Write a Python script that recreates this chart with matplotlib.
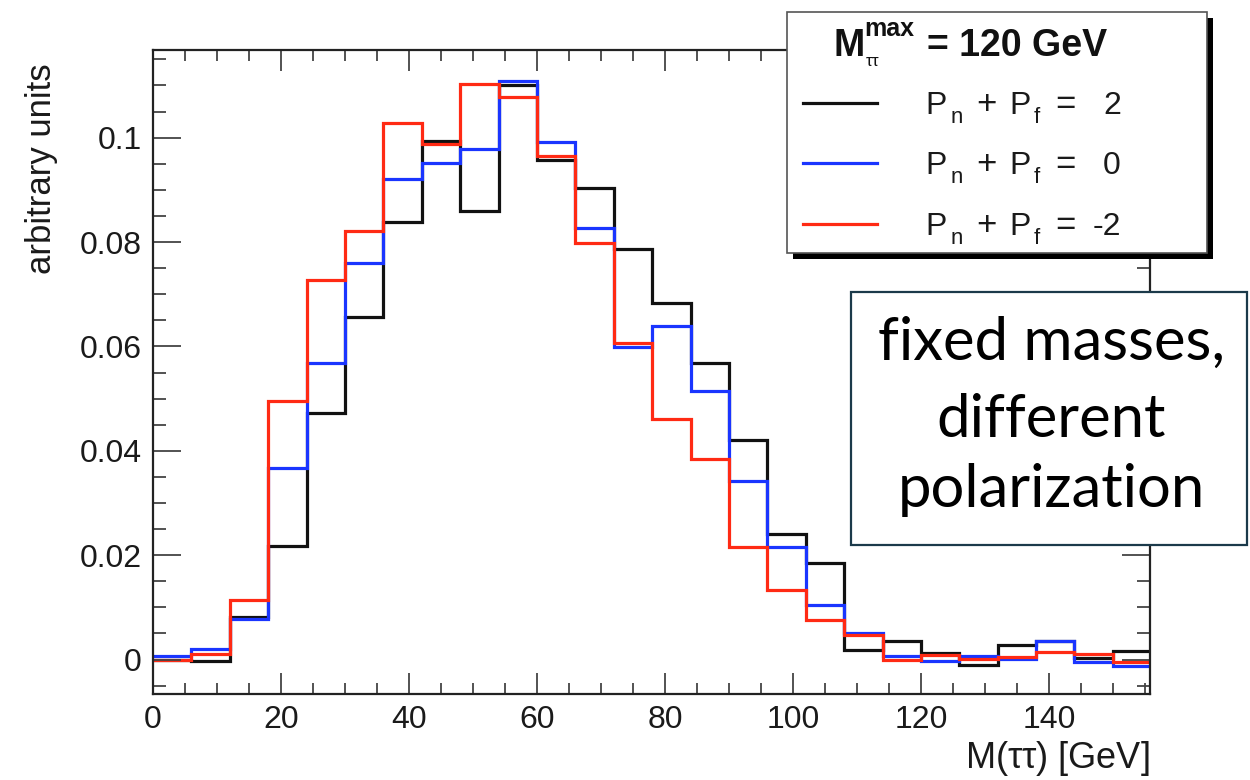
import numpy as np
import matplotlib
matplotlib.use("Agg")
import matplotlib.pyplot as plt
from matplotlib.patches import Rectangle
from matplotlib.lines import Line2D
from matplotlib.ticker import MultipleLocator

plt.rcParams['font.family'] = ['Liberation Sans', 'DejaVu Sans']
plt.rcParams['mathtext.fontset'] = 'custom'
plt.rcParams['mathtext.rm'] = 'Liberation Sans'
plt.rcParams['mathtext.it'] = 'Liberation Sans'
plt.rcParams['mathtext.bf'] = 'Liberation Sans:bold'

# ---- data (bin edges every 6 GeV, 0..156) ----
bin_edges = list(range(0, 157, 6))
black_vals = [0.0000, -0.0002, 0.0082, 0.0217, 0.0472, 0.0657, 0.0839, 0.0994,
              0.0860, 0.1100, 0.0957, 0.0903, 0.0786, 0.0683, 0.0569, 0.0420,
              0.0241, 0.0185, 0.0018, 0.0035, 0.0013, -0.0010, 0.0027, 0.0035,
              0.0003, 0.0016]
blue_vals = [0.0006, 0.0021, 0.0077, 0.0367, 0.0569, 0.0760, 0.0921, 0.0952,
             0.0978, 0.1108, 0.0992, 0.0826, 0.0599, 0.0640, 0.0515, 0.0343,
             0.0215, 0.0104, 0.0050, 0.0006, -0.0003, 0.0006, 0.0002, 0.0036,
             -0.0005, -0.0012]
red_vals = [0.0000, 0.0011, 0.0114, 0.0496, 0.0728, 0.0822, 0.1028, 0.0988,
            0.1103, 0.1078, 0.0965, 0.0799, 0.0607, 0.0461, 0.0385, 0.0215,
            0.0133, 0.0075, 0.0047, 0.0000, 0.0008, 0.0001, 0.0004, 0.0015,
            0.0010, -0.0005]
series_values = ['2', '0', '-2']          # P_n + P_f for each series
series_colors = ['#111111', '#1a35ff', '#ff2a14']
x_ticks = [0, 20, 40, 60, 80, 100, 120, 140]
y_ticks = [0, 0.02, 0.04, 0.06, 0.08, 0.1]
y_tick_labels = ['0', '0.02', '0.04', '0.06', '0.08', '0.1']

W, H = 1250, 780
fig = plt.figure(figsize=(W / 100, H / 100), dpi=100)
ax = fig.add_axes([153 / W, 86 / H, 997 / W, 644 / H])


def fx(px):
    return px / W


def fy(py):
    return 1 - py / H


edges = np.array(bin_edges, dtype=float)
for vals, col in zip([black_vals, blue_vals, red_vals], series_colors):
    ax.stairs(vals, edges, color=col, lw=2.3, baseline=None)

ax.set_xlim(0, 155.8)
ax.set_ylim(-0.0066, 0.1168)
ax.set_xticks(x_ticks)
ax.set_yticks(y_ticks)
ax.set_yticklabels(y_tick_labels)
ax.xaxis.set_minor_locator(MultipleLocator(5))
ax.yaxis.set_minor_locator(MultipleLocator(0.005))
ax.tick_params(which='both', direction='in', top=True, right=True,
               color='#444444', width=1.3)
ax.tick_params(which='major', labelsize=23, pad=6, labelcolor='#1a1a1a')
ax.tick_params(axis='x', which='major', length=15, pad=8)
ax.tick_params(axis='x', which='minor', length=8)
ax.tick_params(axis='y', which='major', length=20, pad=8)
ax.tick_params(axis='y', which='minor', length=9.5)
for s in ax.spines.values():
    s.set_linewidth(1.6)
    s.set_color('#222222')

fig.text(fx(1150), fy(758), r'M($\tau\tau$) [GeV]', ha='right', va='center',
         fontsize=26, color='#1a1a1a')
fig.text(fx(42), fy(169), 'arbitrary units', rotation=90, ha='center',
         va='center', fontsize=25, color='#1a1a1a')

# ---- legend box (ROOT style with shadow) ----
lx0, ly0, lx1, ly1 = 787, 12, 1207, 253
fig.patches.append(Rectangle((fx(lx0 + 6), fy(ly1 + 6)),
                             (lx1 - lx0) / W, (ly1 - ly0) / H,
                             transform=fig.transFigure, facecolor='black',
                             edgecolor='none', zorder=10))
fig.patches.append(Rectangle((fx(lx0), fy(ly1)),
                             (lx1 - lx0) / W, (ly1 - ly0) / H,
                             transform=fig.transFigure, facecolor='white',
                             edgecolor='#555555', lw=1.2, zorder=11))
# header  M_tautau^max = 120 GeV
fig.text(fx(833), fy(56), 'M', ha='left', va='baseline', fontsize=27,
         fontweight='bold', color='#111111', zorder=12)
fig.text(fx(864), fy(36), 'max', ha='left', va='baseline', fontsize=18,
         fontweight='bold', color='#111111', zorder=12)
fig.text(fx(865), fy(66), r'$\tau\tau$', ha='left', va='baseline',
         fontsize=12, color='#111111', zorder=12)
fig.text(fx(927), fy(56), '= 120 GeV', ha='left', va='baseline', fontsize=27,
         fontweight='bold', color='#111111', zorder=12)

row_line_y = [103, 163, 224]
row_base_y = [114, 174, 235]
for ly, by, val, col in zip(row_line_y, row_base_y, series_values, series_colors):
    fig.lines.append(Line2D([fx(803), fx(877)], [fy(ly), fy(ly)],
                            transform=fig.transFigure, color=col, lw=2.3,
                            zorder=12))
    kw = dict(va='baseline', color='#1a1a1a', zorder=12)
    fig.text(fx(925), fy(by), 'P', ha='left', fontsize=23, **kw)
    fig.text(fx(951), fy(by + 9), 'n', ha='left', fontsize=16, **kw)
    fig.text(fx(986), fy(by), '+', ha='center', fontsize=25, **kw)
    fig.text(fx(1009), fy(by), 'P', ha='left', fontsize=23, **kw)
    fig.text(fx(1034), fy(by + 9), 'f', ha='left', fontsize=16, **kw)
    fig.text(fx(1065), fy(by), '=', ha='center', fontsize=25, **kw)
    fig.text(fx(1121), fy(by), val, ha='right', fontsize=23, **kw)

# ---- annotation box ----
bx0, by0, bx1, by1 = 851, 292, 1247, 545
fig.patches.append(Rectangle((fx(bx0), fy(by1)),
                             (bx1 - bx0) / W, (by1 - by0) / H,
                             transform=fig.transFigure, facecolor='white',
                             edgecolor='#1b3a4a', lw=1.6, zorder=13))
for line, base in zip(['fixed masses,', 'different', 'polarization'],
                      [360, 437, 507]):
    fig.text(fx(1051), fy(base), line, ha='center', va='baseline',
             fontsize=43, family=['Lato', 'DejaVu Sans'], color='black',
             zorder=14)

fig.savefig('out.png', dpi=100)
